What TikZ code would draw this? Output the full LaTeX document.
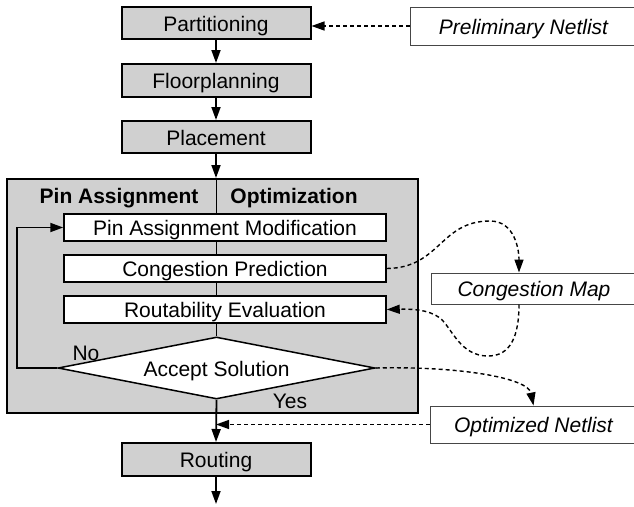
\documentclass[tikz,border=0pt]{standalone}
\usepackage{fontspec}
\setmainfont{Liberation Sans}
\usetikzlibrary{arrows.meta,shapes.geometric}
\definecolor{boxgray}{RGB}{208,208,208}
\definecolor{thingray}{RGB}{70,70,70}
\begin{document}
\begin{tikzpicture}[x=1pt,y=-1pt,
  font=\fontsize{21}{24}\selectfont,
  txt/.style={text height=16.5pt,text depth=0pt},
  stage/.style={txt,draw,line width=2pt,fill=boxgray,minimum width=189pt,minimum height=32pt,inner sep=0pt},
  bigbox/.style={draw,line width=2pt,fill=boxgray,minimum width=411pt,minimum height=234pt,inner sep=0pt},
  inbox/.style={txt,draw,line width=1.5pt,fill=white,minimum width=322pt,minimum height=27pt,inner sep=0pt},
  decide/.style={txt,draw,diamond,aspect=5,line width=1.5pt,fill=white,minimum width=317pt,minimum height=62pt,inner sep=0pt},
  extbox/.style={txt,draw=thingray,line width=1pt,fill=white,inner sep=0pt,font=\fontsize{21}{24}\selectfont\itshape},
  hdr/.style={txt,font=\fontsize{21}{24}\selectfont\bfseries,inner sep=0pt},
  lbl/.style={txt,inner sep=0pt},
  flow/.style={line width=1.8pt,-{Triangle[length=13pt,width=9pt]}},
  dflow/.style={line width=1.4pt,dash pattern=on 4pt off 3pt,-{Triangle[length=13pt,width=9pt]}},
  loopline/.style={line width=1.8pt,-{Triangle[length=13pt,width=9pt]}}
]
\useasboundingbox (0,0) rectangle (634,506);

% main flow
\node[stage] (part) at (216,23) {Partitioning};
\node[stage,minimum height=33pt] (floor) at (216,80.5) {Floorplanning};
\node[stage] (place) at (216,137) {Placement};

\node[bigbox] (big) at (212.5,296) {};
\node[hdr] (hpa) at (119,195) {Pin Assignment};
\node[hdr] (hopt) at (294,195) {Optimization};

\node[decide] (dia) at (216.5,368) {Accept Solution};
\draw[line width=1.5pt] (dia.north |- big.north) -- (dia.north);

\node[inbox] (pam) at (225,227.5) {Pin Assignment Modification};
\node[inbox] (cp) at (225,268.5) {Congestion Prediction};
\node[inbox] (re) at (225,309.5) {Routability Evaluation};

\node[stage,minimum height=33pt] (route) at (216,459.5) {Routing};
\coordinate (out) at (216,504);

\node[lbl] (no) at (86,352) {No};
\node[lbl] (yes) at (290,400) {Yes};

% external boxes
\node[extbox,minimum width=227pt,minimum height=38pt] (prelim) at (523.5,26) {Preliminary Netlist};
\node[extbox,minimum width=206pt,minimum height=31pt] (cmap) at (534,288.5) {Congestion Map};
\node[extbox,minimum width=207pt,minimum height=37pt] (onet) at (533.5,424.5) {Optimized Netlist};

% solid connectors
\draw[flow] (part) -- (floor);
\draw[flow] (floor) -- (place);
\draw[flow] (place.south) -- (place.south |- big.north);
\draw[loopline] (dia.west) -- ++(-40,0) |- (pam.west);
\draw[flow] (dia.south) -- (route.north);
\draw[flow] (route.south) -- (out);

% dashed connectors
\draw[dflow] (prelim.west) -- (prelim.west -| part.east);
\draw[dflow] (onet.west) -- (onet.west -| route.north);
\draw[dflow] (cp.east) .. controls (440,268) and (440,221) .. (490,221)
  .. controls (515,221) and (519,250) .. ([xshift=-15pt]cmap.north);
\draw[dflow] ([xshift=-15pt]cmap.south) .. controls (519,345) and (505,356) .. (488,356)
  .. controls (460,356) and (452,328) .. (440,318)
  .. controls (428,309) and (410,309) .. (re.east);
\draw[dflow] (dia.east) .. controls (460,366) and (528,378) .. (onet.north);
\end{tikzpicture}
\end{document}
